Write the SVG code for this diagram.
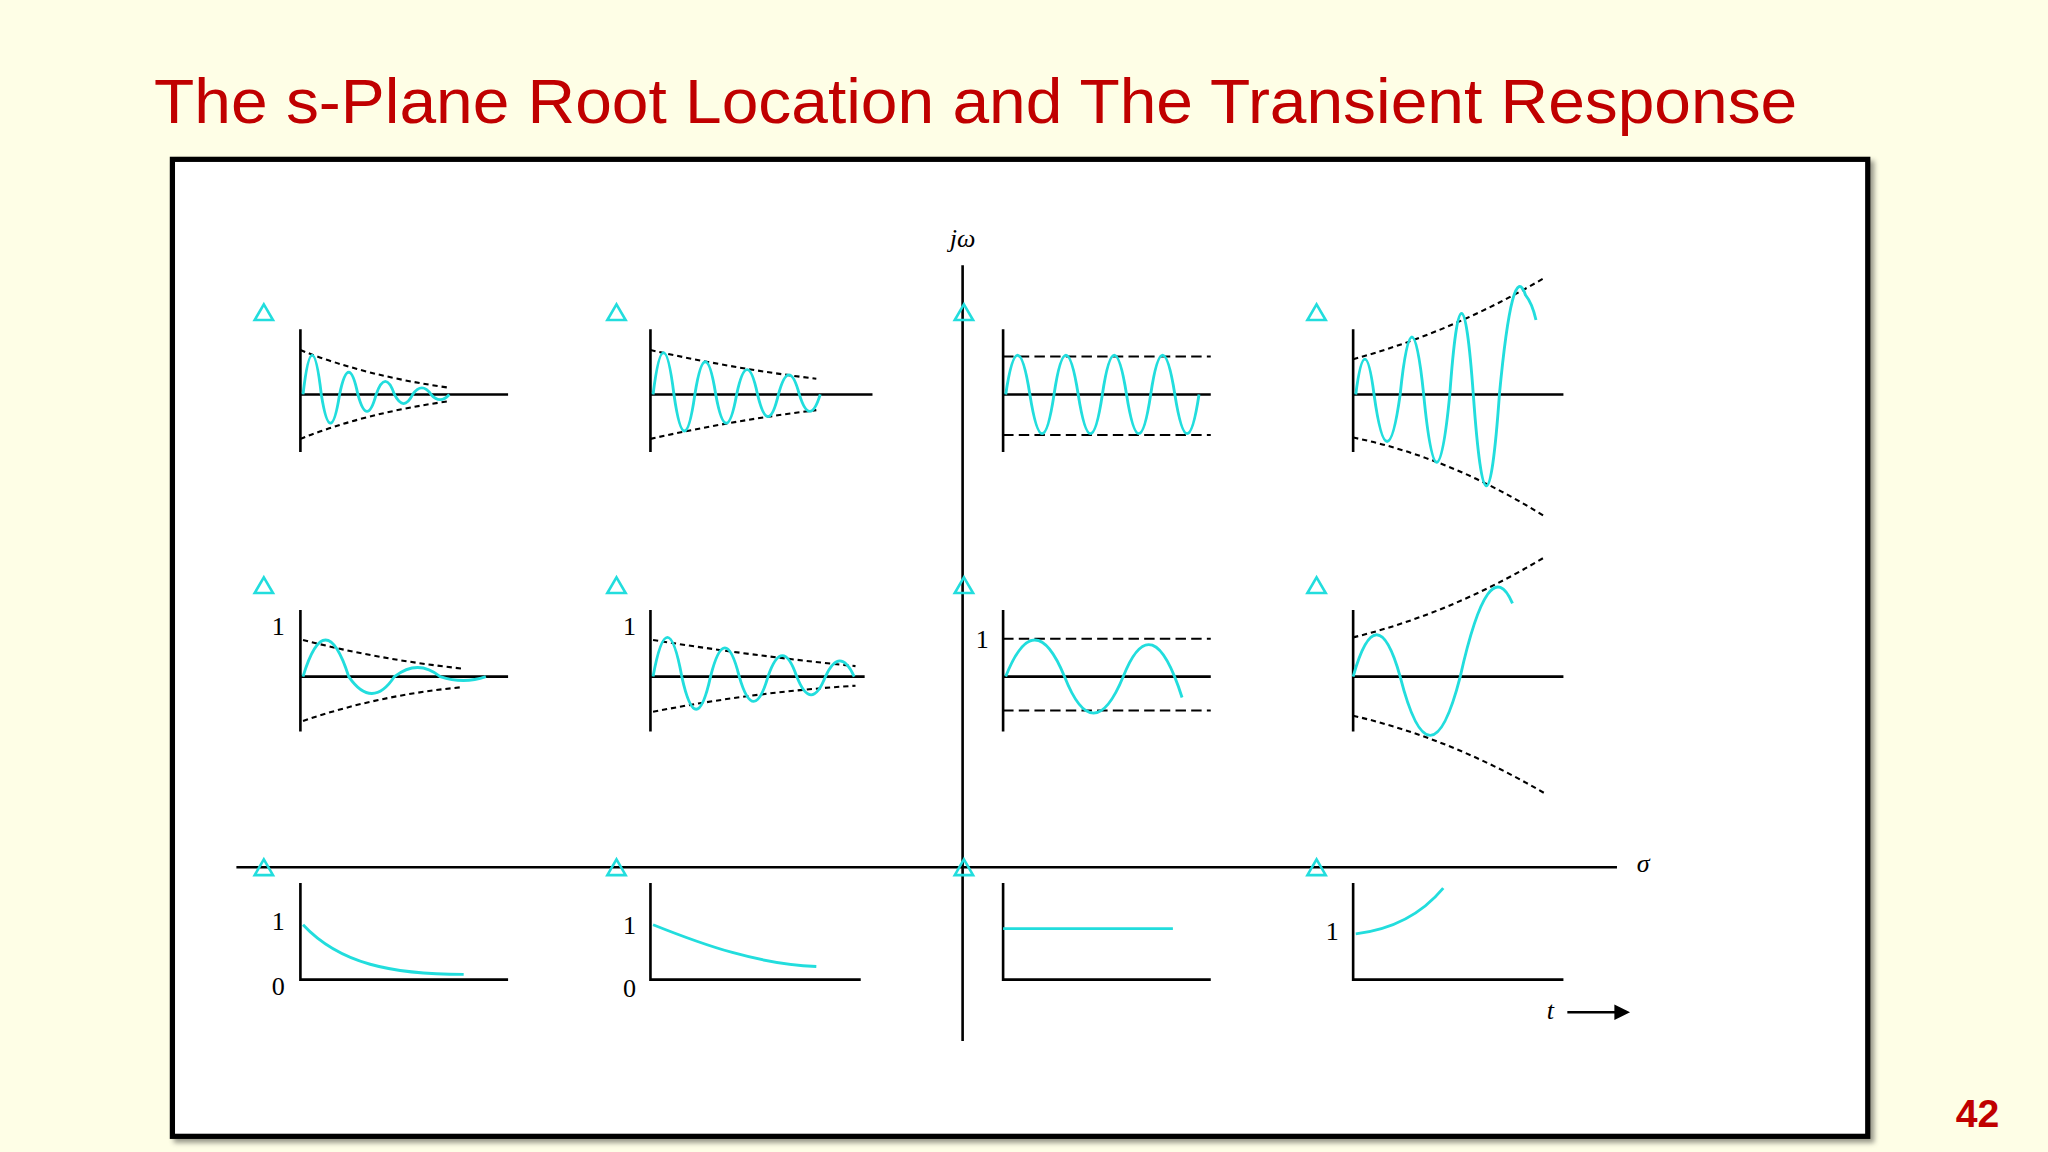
<svg xmlns="http://www.w3.org/2000/svg" width="2048" height="1152" viewBox="0 0 2048 1152">
<style>
.ax{stroke:#000;stroke-width:2;fill:none}
.env{stroke:#000;stroke-width:1.6;fill:none;stroke-dasharray:4 3}
.dash{stroke:#000;stroke-width:1.6;fill:none;stroke-dasharray:8 4}
.cy{stroke:#22DDDD;stroke-width:2.2;fill:none}
.tri{stroke:#22DDDD;stroke-width:2;fill:none}
.lb{font-family:"Liberation Serif",serif;font-size:20px;fill:#000}
</style>
<defs>
<polygon id="t" points="0,-7 7,5 -7,5" class="tri"/>
<filter id="sh"><feDropShadow dx="3" dy="3" stdDeviation="2" flood-opacity="0.4"/></filter>
</defs>
<rect width="2048" height="1152" fill="#FEFEE6"/>
<g transform="scale(1.30612)">
<text x="118" y="94" font-family="Liberation Sans, sans-serif" font-size="48" fill="#C00000" textLength="1258" lengthAdjust="spacingAndGlyphs">The s-Plane Root Location and The Transient Response</text>
<rect x="132" y="122" width="1298" height="748" fill="#fff" stroke="#000" stroke-width="4" filter="url(#sh)"/>
<text x="1514" y="863" font-family="Liberation Sans, sans-serif" font-size="30" font-weight="bold" fill="#C00000" text-anchor="middle">42</text>
<g id="axes">
<line class="ax" x1="737" y1="203" x2="737" y2="797"/>
<line class="ax" x1="181" y1="664" x2="1238" y2="664"/>
<text class="lb" x="737" y="189" text-anchor="middle" font-style="italic" font-size="18">jω</text>
<text class="lb" x="1258" y="668" text-anchor="middle" font-style="italic">σ</text>
<text class="lb" x="1187" y="780" text-anchor="middle" font-style="italic">t</text>
<line class="ax" x1="1200" y1="775" x2="1238" y2="775"/>
<polygon points="1248,775 1236,769 1236,781" fill="#000"/>
</g>
<g id="triangles">
<use href="#t" x="202" y="240"/><use href="#t" x="472" y="240"/><use href="#t" x="738" y="240"/><use href="#t" x="1008" y="240"/>
<use href="#t" x="202" y="449"/><use href="#t" x="472" y="449"/><use href="#t" x="738" y="449"/><use href="#t" x="1008" y="449"/>
<use href="#t" x="202" y="665"/><use href="#t" x="472" y="665"/><use href="#t" x="738" y="665"/><use href="#t" x="1008" y="665"/>
</g>
<g id="p11">
<path class="ax" d="M230,252V346M230,302H389"/>
<path class="env" d="M230,268Q280,288 345,297M230,336Q280,316 345,307"/>
<path class="cy" d="M232,302Q239,242 246,302Q253,346 260,302Q267,268 274,302Q281,328 288,302Q295,282 302,302Q309,316 316,302Q323,292 330,302Q337,310 344,302"/>
</g>
<g id="p12">
<path class="ax" d="M498,252V346M498,302H668"/>
<path class="env" d="M498,268Q560,282 625,290M498,336Q560,322 625,314"/>
<path class="cy" d="M500,302Q508,238 516,302Q524,358 532,302Q540,252 548,302Q556,346 564,302Q572,264 580,302Q588,336 596,302Q604,272 612,302Q620,328 628,302"/>
</g>
<g id="p13">
<path class="ax" d="M768,252V346M768,302H927"/>
<path class="dash" d="M768,273H927M768,333H927"/>
<path class="cy" d="M770,302Q779,242 788.5,302Q798,362 807,302Q816,242 825.5,302Q835,362 844,302Q853,242 862.5,302Q872,362 881,302Q890,242 899.5,302Q909,362 918,302"/>
</g>
<g id="p14">
<path class="ax" d="M1036,252V346M1036,302H1197"/>
<path class="env" d="M1036,275Q1110,255 1182,213M1036,335Q1110,350 1182,395"/>
<path class="cy" d="M1038,302Q1045,248 1052,302Q1062,374 1072,302Q1081,214 1090,302Q1100,406 1110,302Q1119,178 1128,302Q1138,442 1148,302Q1158,196 1168,226Q1173,232 1176,245"/>
</g>
<g id="p21">
<path class="ax" d="M230,467V560M230,518H389"/>
<path class="env" d="M232,490Q290,505 355,512M232,552Q290,532 355,526"/>
<path class="cy" d="M232,518Q249,462 267,518Q285,544 302,518Q320,504 337,518Q355,524 372,518"/>
<text class="lb" x="213" y="486" text-anchor="middle">1</text>
</g>
<g id="p22">
<path class="ax" d="M498,467V560M498,518H662"/>
<path class="env" d="M500,490Q575,502 655,510M500,545Q575,530 655,525"/>
<path class="cy" d="M500,518Q511,458 522,518Q533,568 544,518Q555,474 566,518Q577,556 588,518Q599,486 610,518Q621,546 632,518Q643,494 654,518"/>
<text class="lb" x="482" y="486" text-anchor="middle">1</text>
</g>
<g id="p23">
<path class="ax" d="M768,467V560M768,518H927"/>
<path class="dash" d="M768,489H927M768,544H927"/>
<path class="cy" d="M770,518Q792,462 815,518Q837,574 860,518Q882,462 905,534"/>
<text class="lb" x="752" y="496" text-anchor="middle">1</text>
</g>
<g id="p24">
<path class="ax" d="M1036,467V560M1036,518H1197"/>
<path class="env" d="M1036,488Q1110,470 1182,427M1036,548Q1110,565 1182,607"/>
<path class="cy" d="M1036,518Q1054,454 1072,518Q1095,608 1118,518Q1140,420 1158,462"/>
</g>
<g id="p31">
<path class="ax" d="M230,676V750H389"/>
<path class="cy" d="M232,708C260,738 300,746 355,746"/>
<text class="lb" x="213" y="712" text-anchor="middle">1</text>
<text class="lb" x="213" y="762" text-anchor="middle">0</text>
</g>
<g id="p32">
<path class="ax" d="M498,676V750H659"/>
<path class="cy" d="M500,708C540,724 580,738 625,740"/>
<text class="lb" x="482" y="715" text-anchor="middle">1</text>
<text class="lb" x="482" y="763" text-anchor="middle">0</text>
</g>
<g id="p33">
<path class="ax" d="M768,676V750H927"/>
<path class="cy" d="M768,711H898"/>
</g>
<g id="p34">
<path class="ax" d="M1036,676V750H1197"/>
<path class="cy" d="M1038,715Q1080,710 1105,680"/>
<text class="lb" x="1020" y="720" text-anchor="middle">1</text>
</g>
</g>
</svg>
